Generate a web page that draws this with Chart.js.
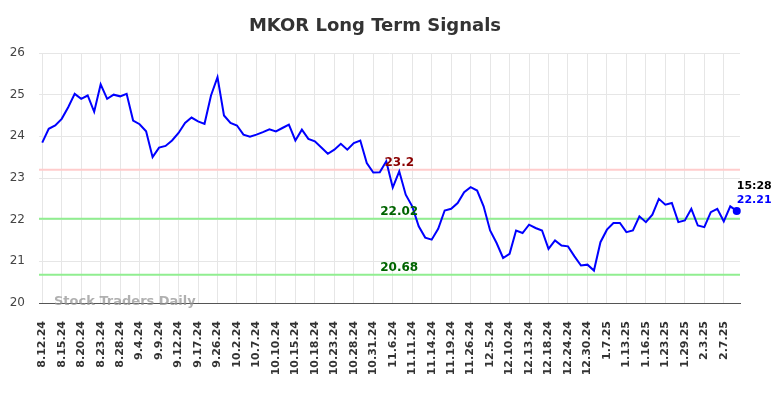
<!DOCTYPE html>
<html>
<head>
<meta charset="utf-8">
<title>MKOR Long Term Signals</title>
<script src="https://cdn.jsdelivr.net/npm/chart.js@4/dist/chart.umd.min.js"></script>
<style>
    body { margin: 0; background: #fff; }
    canvas { display: block; }
</style>
</head>
<body>
<canvas id="signalChart" width="784" height="398"></canvas>
<script>
// MKOR long term signals - closing prices

const tickDates = [
    '8.12.24', '8.15.24', '8.20.24', '8.23.24', '8.28.24', '9.4.24', '9.9.24', '9.12.24', '9.17.24',
    '9.26.24', '10.2.24', '10.7.24', '10.10.24', '10.15.24', '10.18.24', '10.23.24', '10.28.24', '10.31.24',
    '11.6.24', '11.11.24', '11.14.24', '11.19.24', '11.26.24', '12.5.24', '12.10.24', '12.13.24', '12.18.24',
    '12.24.24', '12.30.24', '1.7.25', '1.13.25', '1.16.25', '1.23.25', '1.29.25', '2.3.25', '2.7.25'
];

const prices = [
    23.85, 24.18, 24.26, 24.42, 24.70, 25.02, 24.90, 24.98, 24.59, 25.25,
    24.90, 25.00, 24.96, 25.02, 24.38, 24.29, 24.12, 23.50, 23.73, 23.77,
    23.90, 24.08, 24.32, 24.45, 24.36, 24.30, 24.98, 25.42, 24.50, 24.32,
    24.26, 24.04, 23.99, 24.04, 24.10, 24.17, 24.12, 24.20, 24.28, 23.90,
    24.16, 23.94, 23.88, 23.73, 23.58, 23.68, 23.82, 23.68, 23.84, 23.90,
    23.36, 23.13, 23.14, 23.40, 22.77, 23.16, 22.60, 22.32, 21.84, 21.57,
    21.52, 21.78, 22.22, 22.26, 22.40, 22.66, 22.78, 22.70, 22.32, 21.74,
    21.44, 21.08, 21.18, 21.74, 21.68, 21.88, 21.80, 21.74, 21.30, 21.50,
    21.38, 21.36, 21.12, 20.90, 20.92, 20.78, 21.46, 21.76, 21.92, 21.92,
    21.70, 21.74, 22.08, 21.94, 22.12, 22.50, 22.36, 22.40, 21.94, 21.98,
    22.26, 21.86, 21.82, 22.18, 22.26, 21.96, 22.32, 22.21
];

// signal levels
const resistanceLevels = [23.2];
const supportLevels = [22.02, 20.68];
const lastTime = '15:28';

const yTicks = [20, 21, 22, 23, 24, 25, 26];

// one tick label every 3 sessions
const labels = prices.map((p, i) => (i % 3 === 0 ? (tickDates[i / 3] || '') : ''));

const FONT = 'DejaVu Sans';
Chart.defaults.font.family = FONT;

const overlayPlugin = {
    id: 'overlay',
    beforeDatasetsDraw(chart) {
        const ctx = chart.ctx;
        const area = chart.chartArea;
        const y = chart.scales.y;
        ctx.save();
        ctx.lineWidth = 2;
        resistanceLevels.forEach(v => {
            ctx.strokeStyle = '#ffcccc';
            ctx.beginPath();
            ctx.moveTo(area.left, y.getPixelForValue(v));
            ctx.lineTo(area.right, y.getPixelForValue(v));
            ctx.stroke();
        });
        supportLevels.forEach(v => {
            ctx.strokeStyle = '#90ee90';
            ctx.beginPath();
            ctx.moveTo(area.left, y.getPixelForValue(v));
            ctx.lineTo(area.right, y.getPixelForValue(v));
            ctx.stroke();
        });
        ctx.restore();
    },
    afterDraw(chart) {
        const ctx = chart.ctx;
        const x = chart.scales.x;
        const y = chart.scales.y;
        const labelX = x.getPixelForValue(55);
        ctx.save();

        // title
        ctx.font = 'bold 18px ' + FONT;
        ctx.fillStyle = '#333333';
        ctx.textAlign = 'center';
        ctx.textBaseline = 'middle';
        ctx.fillText('MKOR Long Term Signals', 375, 26);

        // level labels
        ctx.font = 'bold 12px ' + FONT;
        ctx.textBaseline = 'alphabetic';
        resistanceLevels.forEach(v => {
            ctx.fillStyle = '#8b0000';
            ctx.fillText(String(v), labelX, y.getPixelForValue(v) - 4);
        });
        supportLevels.forEach(v => {
            ctx.fillStyle = '#006400';
            ctx.fillText(v.toFixed(2), labelX, y.getPixelForValue(v) - 4);
        });

        // last price annotation
        const last = prices.length - 1;
        const px = x.getPixelForValue(last);
        const py = y.getPixelForValue(prices[last]);
        ctx.font = 'bold 11px ' + FONT;
        ctx.textAlign = 'left';
        ctx.textBaseline = 'middle';
        ctx.fillStyle = '#000000';
        ctx.fillText(lastTime, px, py - 25);
        ctx.fillStyle = '#0000ff';
        ctx.fillText(prices[last].toFixed(2), px, py - 11);

        // watermark
        ctx.font = 'bold 13px ' + FONT;
        ctx.fillStyle = 'rgba(150,150,150,0.75)';
        ctx.fillText('Stock Traders Daily', 54, 302);
        ctx.restore();
    }
};

const ctx = document.getElementById('signalChart').getContext('2d');
new Chart(ctx, {
    type: 'line',
    data: {
        labels: labels,
        datasets: [{
            data: prices,
            borderColor: '#0000ff',
            borderWidth: 2,
            tension: 0,
            clip: false,
            pointRadius: c => (c.dataIndex === prices.length - 1 ? 4 : 0),
            pointBackgroundColor: '#0000ff',
            pointBorderWidth: 0
        }]
    },
    options: {
        responsive: false,
        animation: false,
        layout: { padding: { left: 0, right: 44, top: 53, bottom: 0 } },
        plugins: {
            legend: { display: false },
            title: { display: false },
            tooltip: { enabled: false }
        },
        scales: {
            x: {
                offset: true,
                grid: {
                    drawTicks: false,
                    color: c => (c.index % 3 === 0 ? '#e6e6e6' : 'rgba(0,0,0,0)')
                },
                border: { display: true, color: '#555555', width: 1 },
                ticks: {
                    autoSkip: false,
                    minRotation: 90,
                    maxRotation: 90,
                    padding: 18,
                    color: '#333333',
                    font: { size: 11, weight: 'bold' },
                    callback: (v, i) => labels[i]
                },
                afterFit: s => { s.height = 95; }
            },
            y: {
                min: yTicks[0],
                max: yTicks[yTicks.length - 1],
                grid: { drawTicks: false, color: '#e6e6e6' },
                border: { display: false },
                ticks: {
                    stepSize: 1,
                    padding: 14,
                    color: '#444444',
                    font: { size: 12 }
                },
                afterFit: s => { s.width = 39; }
            }
        }
    },
    plugins: [overlayPlugin]
});
</script>
</body>
</html>
